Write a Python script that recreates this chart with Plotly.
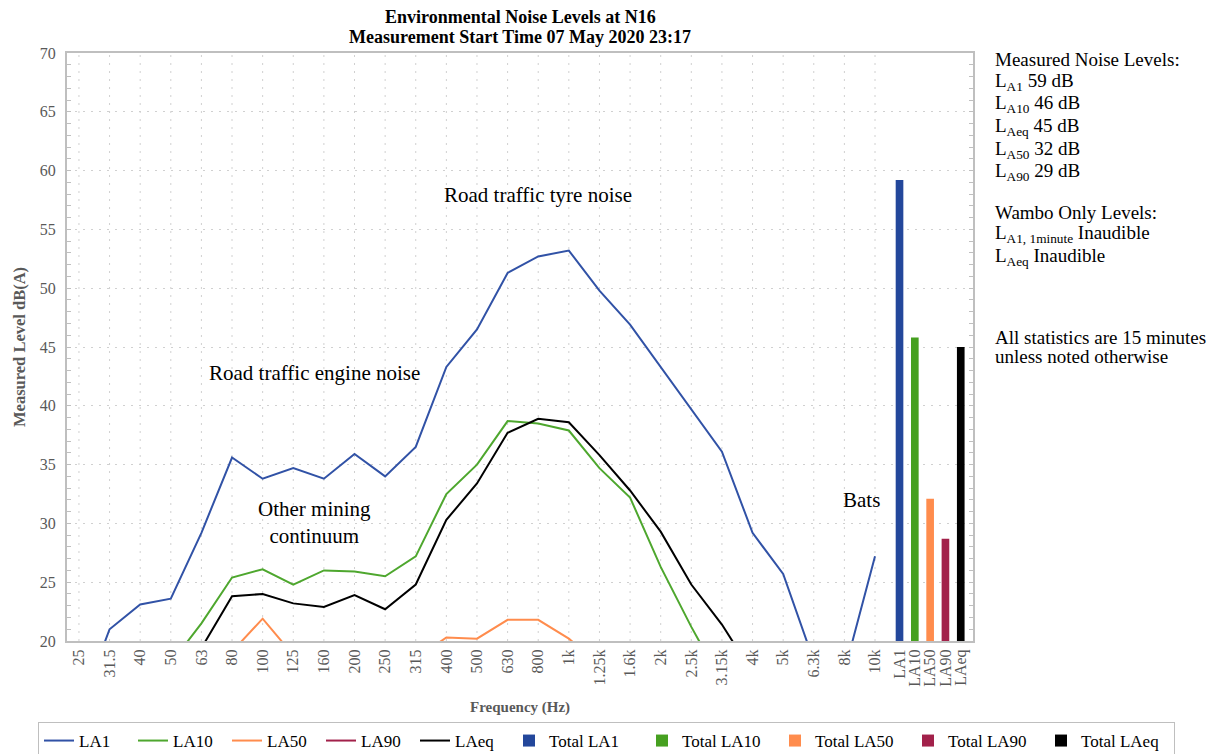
import plotly.graph_objects as go

freq_labels = ["25", "31.5", "40", "50", "63", "80", "100", "125", "160", "200", "250",
               "315", "400", "500", "630", "800", "1k", "1.25k", "1.6k", "2k", "2.5k",
               "3.15k", "4k", "5k", "6.3k", "8k", "10k"]
total_labels = ["LA1", "LA10", "LA50", "LA90", "LAeq"]

la1 = [14.0, 21.0, 23.1, 23.6, 29.2, 35.6, 33.8, 34.7, 33.8, 35.9, 34.0, 36.5, 43.3, 46.5,
       51.3, 52.7, 53.2, 49.8, 46.9, 43.3, 39.7, 36.1, 29.2, 25.7, 18.3, 17.4, 27.2]
la10 = [15.5, 16.0, 17.0, 18.1, 21.5, 25.4, 26.1, 24.8, 26.0, 25.9, 25.5, 27.2, 32.5, 35.0,
        38.7, 38.5, 37.9, 34.7, 32.2, 26.3, 21.2, 16.5, 13.0, 11.5, 10.5, 10.0, 12.0]
la50 = [11.0, 12.0, 13.0, 14.5, 16.5, 19.1, 21.9, 18.8, 17.5, 17.0, 17.5, 18.5, 20.3, 20.2,
        21.8, 21.8, 20.2, 18.0, 16.5, 14.5, 12.5, 11.0, 9.5, 8.5, 8.0, 8.0, 9.0]
la90 = [9.0, 10.0, 11.0, 12.5, 14.0, 16.0, 17.5, 16.5, 15.5, 15.5, 15.5, 16.5, 18.0, 18.0,
        18.5, 18.5, 17.5, 16.0, 14.5, 12.5, 10.5, 9.0, 8.0, 7.5, 7.0, 7.0, 7.5]
laeq = [14.0, 15.0, 16.5, 18.0, 19.4, 23.8, 24.0, 23.2, 22.9, 23.9, 22.7, 24.8, 30.3, 33.4,
        37.7, 38.9, 38.6, 35.8, 32.8, 29.3, 24.8, 21.4, 17.3, 15.5, 14.5, 14.0, 16.0]
totals = [59.2, 45.8, 32.1, 28.7, 45.0]

title_lines = ["Environmental Noise Levels at N16", "Measurement Start Time 07 May 2020 23:17"]

line_names = ["LA1", "LA10", "LA50", "LA90", "LAeq"]
line_colors = ["#3152A6", "#4EA72E", "#FF8C4D", "#A2214A", "#000000"]
bar_colors = ["#23479B", "#46A020", "#FF8C4D", "#A2214A", "#000000"]

FONT = "Liberation Serif"
GREY = "#595959"

n = len(freq_labels)
x_freq = list(range(n))
x_tot = [n - 0.2 + 0.5 * j for j in range(len(total_labels))]

fig = go.Figure()
for name, vals, col in zip(line_names, [la1, la10, la50, la90, laeq], line_colors):
    fig.add_trace(go.Scatter(x=x_freq, y=vals, mode="lines", name=name,
                             line=dict(color=col, width=2), legendwidth=49))
for j, (lab, val, col) in enumerate(zip(total_labels, totals, bar_colors)):
    fig.add_trace(go.Bar(x=[x_tot[j]], y=[val], name="Total " + lab,
                         marker=dict(color=col, line=dict(width=0)), width=0.25,
                         legendwidth=88))

shapes = []
for xi in x_freq:
    shapes.append(dict(type="line", xref="x", yref="y", x0=xi, x1=xi, y0=20, y1=70,
                       line=dict(color="#D0D0D0", width=1, dash="2px,6px"), layer="below"))

annotations = [
    dict(text="Road traffic tyre noise", x=15.0, y=57.9),
    dict(text="Road traffic engine noise", x=7.7, y=42.8),
    dict(text="Other mining<br>continuum", x=7.7, y=30.1),
    dict(text="Bats", x=25.55, y=32.0),
]
for a in annotations:
    a.update(xref="x", yref="y", showarrow=False, font=dict(family=FONT, size=21, color="black"))

plot_top, plot_bot = 53, 641
ph = plot_bot - plot_top
def py(ypx):
    return (plot_bot - ypx) / ph

for txt, ypx in zip(title_lines, [17, 37]):
    annotations.append(dict(text="<b>" + txt + "</b>", xref="paper", yref="paper", x=0.5,
                            y=py(ypx), xanchor="center", yanchor="middle", showarrow=False,
                            font=dict(family=FONT, size=18, color="black")))

right_lines = [
    ("Measured Noise Levels:", 60),
    ("L<sub>A1</sub> 59 dB", 82),
    ("L<sub>A10</sub> 46 dB", 104),
    ("L<sub>Aeq</sub> 45 dB", 127),
    ("L<sub>A50</sub> 32 dB", 150),
    ("L<sub>A90</sub> 29 dB", 172),
    ("Wambo Only Levels:", 212),
    ("L<sub>A1, 1minute</sub> Inaudible", 234),
    ("L<sub>Aeq</sub> Inaudible", 257),
    ("All statistics are 15 minutes", 337),
    ("unless noted otherwise", 356),
]
for txt, ypx in right_lines:
    annotations.append(dict(text=txt, xref="paper", yref="paper", x=(993 - 67) / 906,
                            y=py(ypx), xanchor="left", yanchor="middle", showarrow=False,
                            font=dict(family=FONT, size=19, color="black")))

annotations.append(dict(text="<b>Frequency (Hz)</b>", xref="paper", yref="paper", x=0.5,
                        y=py(707), xanchor="center", yanchor="middle", showarrow=False,
                        font=dict(family=FONT, size=15, color=GREY)))
annotations.append(dict(text="<b>Measured Level dB(A)</b>", xref="paper", yref="paper",
                        x=(19 - 67) / 906, y=py(347), xanchor="center", yanchor="middle",
                        textangle=-90, showarrow=False,
                        font=dict(family=FONT, size=16.5, color=GREY)))

fig.update_layout(
    width=1216, height=754,
    margin=dict(l=67, r=243, t=53, b=113, autoexpand=False),
    paper_bgcolor="white", plot_bgcolor="white",
    font=dict(family=FONT, color=GREY),
    barmode="overlay",
    showlegend=True,
    legend=dict(orientation="h", x=(1175 - 67) / 906, y=py(722), xanchor="right", yanchor="top",
                bordercolor="#BFBFBF", borderwidth=1, font=dict(family=FONT, size=17, color="black"),
                traceorder="normal"),
    shapes=shapes,
    annotations=annotations,
)
fig.update_xaxes(range=[-0.39, n + 2.2], tickmode="array",
                 tickvals=x_freq + x_tot, ticktext=freq_labels + total_labels,
                 tickangle=-90, tickfont=dict(family=FONT, size=16, color=GREY),
                 showgrid=False, zeroline=False, showline=True, linecolor="#BFBFBF",
                 linewidth=2, mirror=True, ticks="", automargin=False)
fig.update_yaxes(range=[20, 70], dtick=5, tickfont=dict(family=FONT, size=16, color=GREY),
                 showgrid=True, gridcolor="#D0D0D0", griddash="2px,6px", gridwidth=1,
                 zeroline=False, showline=True, linecolor="#BFBFBF", linewidth=2,
                 mirror="ticks", ticks="inside", ticklen=4, tickcolor="#BFBFBF",
                 minor=dict(dtick=1, ticks="inside", ticklen=4, tickcolor="#BFBFBF", showgrid=False),
                 ticklabelstandoff=6, automargin=False)

fig.write_html("out.html", config={"displayModeBar": False},
               post_script="document.body.style.margin='0';")
